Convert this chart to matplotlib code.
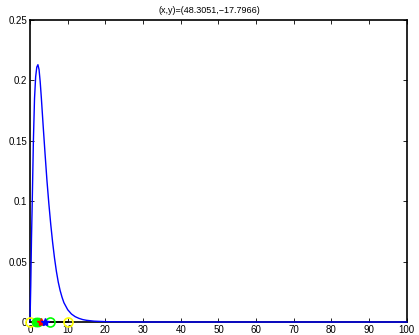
import matplotlib
matplotlib.use("Agg")
import matplotlib.pyplot as plt

plt.rcParams['font.family'] = ['Liberation Sans', 'DejaVu Sans']

# density curve
curve_x = [0, 0.2, 0.4, 0.6, 0.9, 1.2, 1.5, 1.8, 2.1, 2.4, 2.7, 3.0, 3.5, 4.0,
           4.5, 5.0, 5.5, 6.0, 6.5, 7.0, 7.5, 8.0, 8.5, 9.0, 10, 11, 12, 13,
           14, 15, 17, 20, 25, 30, 100]
curve_y = [0, 0.03, 0.07, 0.10, 0.15, 0.185, 0.203, 0.211, 0.213, 0.209, 0.199,
           0.186, 0.162, 0.139, 0.117, 0.098, 0.081, 0.066, 0.053, 0.042, 0.033,
           0.026, 0.0205, 0.016, 0.0102, 0.0066, 0.0044, 0.003, 0.002, 0.0014,
           0.0007, 0.0003, 0.0001, 0, 0]

# markers on the x axis
yellow_x = [0, 10]
green_fill_x = [1.6, 2.0]
red_x = [3.0]
blue_x = [4.0]
green_open_x = [5.3]

xticks = list(range(0, 101, 10))
yticks = [0, 0.05, 0.1, 0.15, 0.2, 0.25]
yticklabels = ['0', '0.05', '0.1', '0.15', '0.2', '0.25']

fig = plt.figure(figsize=(4.19, 3.35), dpi=100)
ax = fig.add_axes([0.0716, 0.0388, 0.8994, 0.9015])

ax.plot(curve_x, curve_y, color='#0000ff', lw=1.0, clip_on=False, zorder=3)
ax.plot([0, 10], [0, 0], color='k', lw=1.2, clip_on=False, zorder=3)
ax.plot(yellow_x, [0] * len(yellow_x), 'o', mfc='none', mec='#ffff00', ms=6.5, mew=1.2, clip_on=False, zorder=4)
ax.plot(green_fill_x, [0] * len(green_fill_x), 'o', mfc='#00ff00', mec='#00ff00', ms=6, clip_on=False, zorder=4)
ax.plot(red_x, [0] * len(red_x), '*', color='#ff0000', ms=6, clip_on=False, zorder=5)
ax.plot(blue_x, [0] * len(blue_x), '*', color='#0000ff', ms=6, clip_on=False, zorder=5)
ax.plot(green_open_x, [0] * len(green_open_x), 'o', mfc='none', mec='#00ff00', ms=6.5, mew=1.2, clip_on=False, zorder=4)

ax.set_xlim(0, 100)
ax.set_ylim(0, 0.25)
ax.set_xticks(xticks)
ax.set_yticks(yticks)
ax.set_yticklabels(yticklabels)
ax.tick_params(direction='in', top=True, right=True, length=3, width=0.6,
               labelsize=7, pad=2)
for s in ax.spines.values():
    s.set_linewidth(1.2)
    s.set_zorder(2)

fig.text(0.5, 0.968, '(x,y)=(48.3051,\u221217.7966)', ha='center', va='center', fontsize=6.5)

fig.savefig('out.png', dpi=100)
